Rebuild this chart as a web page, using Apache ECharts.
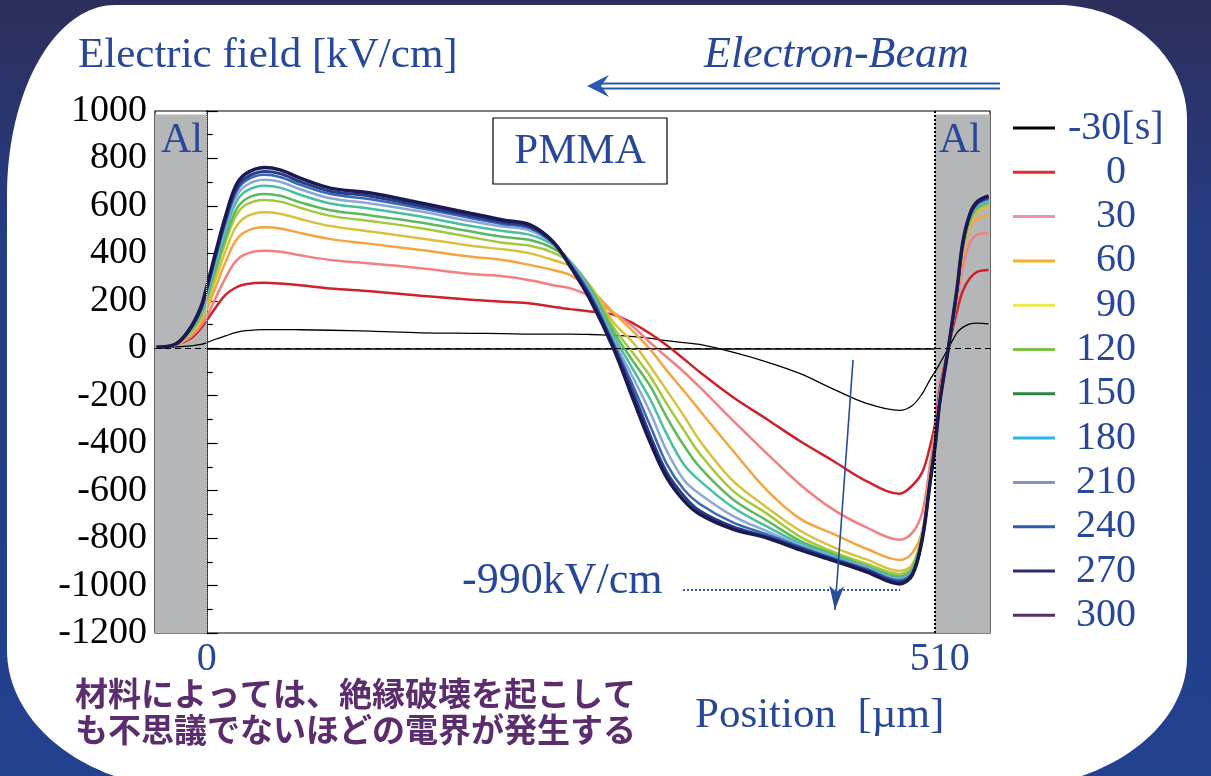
<!DOCTYPE html>
<html><head><meta charset="utf-8">
<script src="https://cdn.jsdelivr.net/npm/echarts@6/dist/echarts.min.js"></script>
<style>html,body{margin:0;padding:0;background:#22418f}#c{width:1211px;height:776px}</style>
</head><body><div id="c"></div>
<script>
// ---- data ----
const positions = [-35,-21,-11,-4,0,6,13,20,27,40,51,65,86,114,149,184,206,225,241,253,267,283,297,309,320,332,343,366,390,413,436,459,482,491,498,503,507,510,516,522,526,531,536,544];
const s_m30 = [4,6,10,16,24,38,52,66,74, 79,79,78,76,72,65,63,62,60, 60,60,58,54,49,42,32,24,16,-16,-58,-107,-172,-232,-262, -241,-190,-135,-97,-65,0,65,88,103,106,103];
const s_0   = [4,15,42,85,118,170,225,255,270, 276,273,266,252,240,221,205,196,189, 175,165,155,142,104,60,13,-45,-100,-205,-300,-392,-475,-560,-613, -578,-520,-420,-310,-170,0,156,240,295,322,330];
const s_30  = [4,15,50,94,134,210,296,365,397, 411,407,392,372,357,337,313,304,287, 266,253,218,150,89,21,-37,-100,-164,-304,-445,-575,-680,-755,-807, -777,-689,-500,-340,-190,0,200,340,444,478,486];
const s_60  = [4,16,58,110,162,255,362,452,492, 510,505,486,460,440,414,386,372,351, 330,308,250,150,69,-8,-93,-180,-262,-431,-600,-719,-782,-845,-892, -862,-765,-550,-380,-210,0,220,385,503,545,562];
const s_90  = [4,16,64,124,182,287,408,508,553, 573,567,545,515,492,463,432,417,400, 372,345,262,110,21,-80,-177,-285,-389,-558,-672,-769,-838,-890,-938, -910,-775,-560,-385,-215,0,230,405,520,575,596];
const s_120 = [4,17,70,135,200,315,446,555,604, 625,618,592,558,536,506,468,445,432, 403,360,258,88,-23,-122,-233,-345,-444,-600,-698,-795,-858,-908,-951, -920,-780,-565,-388,-218,0,234,415,532,585,608];
const s_150 = [4,17,73,142,210,330,466,578,628, 650,643,615,582,560,530,492,470,456, 421,365,252,70,-58,-164,-290,-410,-501,-636,-727,-812,-868,-918,-962, -930,-785,-568,-390,-220,0,236,420,540,592,615];
const s_180 = [4,18,77,150,222,350,492,610,661, 685,677,647,610,588,555,515,494,478, 435,365,245,52,-93,-220,-361,-490,-558,-670,-752,-822,-874,-921,-967, -935,-788,-570,-392,-222,0,238,424,545,597,620];
const s_210 = [4,18,80,156,232,364,512,632,685, 710,702,670,632,610,576,535,513,496, 440,362,235,35,-128,-276,-431,-555,-614,-706,-772,-830,-880,-925,-972, -940,-792,-572,-394,-224,0,240,428,550,602,625];
const s_240 = [4,19,83,162,242,378,528,652,705, 731,722,689,650,628,590,548,523,505, 443,356,225,22,-163,-333,-487,-595,-656,-734,-785,-837,-885,-930,-978, -945,-795,-575,-396,-226,0,242,432,555,607,630];
const s_270 = [4,19,86,168,250,388,540,666,718, 745,736,702,662,641,600,557,531,512, 446,350,215,10,-191,-375,-522,-622,-685,-752,-795,-843,-890,-935,-985, -950,-798,-578,-398,-228,0,245,438,560,612,636];
const s_300 = [4,20,90,175,259,400,555,682,735, 762,752,717,675,654,612,568,541,520, 449,344,203,0,-220,-403,-544,-642,-699,-762,-800,-850,-895,-942,-993, -955,-800,-580,-400,-230,0,249,444,566,617,642];
const seriesNames = ['-30[s]','0','30','60','90','120','150','180','210','240','270','300'];
const seriesValues = [s_m30,s_0,s_30,s_60,s_90,s_120,s_150,s_180,s_210,s_240,s_270,s_300];
const yTicks = {min:-1200, max:1000, step:200};
const xTickValues = [0, 510];
const alLeft = [-36, 0], alRight = [506.7, 545];
const zeroLevel = 0;
const peakMarkY = -1018;          // "-990kV/cm" guide
const peakMarkX = [331.4, 482.4];
const trendArrow = [[449.7,-49],[437.1,-1103]];

// ---- styles ----
const lineColors = ['#000000','#d0202a','#f47f80','#f5a540','#d8c13c','#a3c83c','#5cb85c','#45c0a0','#88a8d8','#3a68b8','#283a8a','#1a1a50'];
const legendColors = ['#000000','#e8262b','#ee8fb8','#f2b224','#ece84a','#7cc24a','#2e8540','#2bb8e6','#8890c8','#2a5cae','#2d2d6a','#5c2a66'];
const lineWidths = [1.3,2.5,2.5,2.5,2.5,2.5,2.5,2.5,2.5,2.5,3,3.5];
const blue = '#27479a';
const serif = '"Liberation Serif", "DejaVu Serif", serif';

// white rounded slide panel outline (elliptical corners)
function arcPts(cx, cy, rx, ry, a0, a1, n){
  const pts=[];
  for(let i=0;i<=n;i++){const a=a0+(a1-a0)*i/n; pts.push([cx+rx*Math.cos(a), cy+ry*Math.sin(a)]);}
  return pts;
}
const P = Math.PI;
const panelPts = [].concat(
  arcPts(115,195,108,190, P, 1.5*P, 40),
  arcPts(1057,120,130,115, 1.5*P, 2*P, 40),
  arcPts(997,657,190,133, 0, 0.5*P, 40),
  arcPts(197,650,190,140, 0.5*P, P, 40)
);

const chart = echarts.init(document.getElementById('c'), null, {renderer:'canvas'});

const series = seriesNames.map((n,k)=>({
  name:n, type:'line', smooth:0.35, showSymbol:false, z:3,
  data: positions.map((x,i)=>[x, seriesValues[k][i]]),
  lineStyle:{color:lineColors[k], width:lineWidths[k]},
  itemStyle:{color:lineColors[k]}
}));

series.unshift({
  name:'annot', type:'line', data:[], z:1, silent:true,
  markArea:{silent:true, itemStyle:{color:'#b5b6b8'},
    data:[[{xAxis:alLeft[0], yAxis:yTicks.min},{xAxis:alLeft[1], yAxis:985}],
          [{xAxis:alRight[0], yAxis:yTicks.min},{xAxis:alRight[1], yAxis:985}]]},
  markLine:{silent:true, symbol:'none', label:{show:false},
    data:[
      {yAxis:zeroLevel, lineStyle:{color:'#000', width:1, type:[6,4]}},
      {xAxis:alLeft[1], lineStyle:{color:'#d8d8d8', width:1, type:'dotted'}},
      {xAxis:alRight[0], lineStyle:{color:'#000', width:2, type:'dotted'}},
      [{coord:[peakMarkX[0],peakMarkY], lineStyle:{color:'#3055b0', width:2, type:[2,2]}},{coord:[peakMarkX[1],peakMarkY]}],
      [{coord:trendArrow[0], symbol:'none', lineStyle:{color:'#2a4d9a', width:1.6, type:'solid'}},{coord:trendArrow[1], symbol:'arrow', symbolSize:[11,24]}]
    ]}
});

const option = {
  animation:false,
  grid:{left:155, right:221, top:111, bottom:143, show:true, borderColor:'#000', borderWidth:1.2, backgroundColor:'#fff'},
  xAxis:{type:'value', min:-36, max:545, splitLine:{show:false},
    axisLine:{lineStyle:{color:'#000', width:1.5}},
    axisTick:{inside:true, length:5, customValues:xTickValues, lineStyle:{color:'#000'}},
    axisLabel:{customValues:xTickValues, color:blue, fontFamily:serif, fontSize:40, margin:6,
      formatter:function(v){return String(v);}}},
  yAxis:{type:'value', min:yTicks.min, max:yTicks.max, interval:yTicks.step, splitLine:{show:false},
    axisLine:{show:true, lineStyle:{color:'#000', width:1.5}},
    axisTick:{show:true, inside:true, length:11, lineStyle:{color:'#000', width:1.2}},
    minorTick:{show:true, splitNumber:2, length:6, lineStyle:{color:'#000', width:1.2}},
    axisLabel:{color:'#000', fontFamily:serif, fontSize:38, margin:8,
      formatter:function(v){return String(v);}}},
  legend:{orient:'vertical', left:1013, top:108, padding:0, itemWidth:42, itemHeight:3, itemGap:4.3, icon:'rect',
    selectedMode:false,
    data: seriesNames.map((n,k)=>({name:n, itemStyle:{color:legendColors[k]}})),
    formatter:function(name){
      if(name==='-30[s]') return '{d|-30[s]}';
      if(name==='0') return '{a|0}';
      return '{c|'+name+'}';
    },
    textStyle:{fontFamily:serif, fontSize:40, color:blue, lineHeight:36,
      rich:{a:{width:66, align:'right', fontFamily:serif, fontSize:40, color:blue, lineHeight:36},
            d:{padding:[0,0,0,8], fontFamily:serif, fontSize:40, color:blue, lineHeight:36},
            c:{width:76, align:'right', fontFamily:serif, fontSize:40, color:blue, lineHeight:36}}}},
  graphic:[
    {type:'rect', z:-100, silent:true, shape:{x:0,y:0,width:1211,height:776},
      style:{fill:new echarts.graphic.LinearGradient(0,0,0,1,[{offset:0,color:'#2d2e5b'},{offset:0.3,color:'#253c83'},{offset:1,color:'#22418f'}])}},
    {type:'polygon', z:-99, silent:true, shape:{points:panelPts}, style:{fill:'#ffffff'}},
    {type:'text', z:50, left:78, top:34, style:{text:'Electric field [kV/cm]', font:'43px '+serif, fill:blue}},
    {type:'text', z:50, left:704, top:33, style:{text:'Electron-Beam', font:'italic 44px '+serif, fill:blue}},
    {type:'line', z:50, shape:{x1:600,y1:83.5,x2:1000,y2:83.5}, style:{stroke:'#2a58b0', lineWidth:2.2}},
    {type:'line', z:50, shape:{x1:600,y1:88.5,x2:1000,y2:88.5}, style:{stroke:'#2a58b0', lineWidth:2.2}},
    {type:'polygon', z:50, shape:{points:[[587,86],[609,75],[601,86],[609,97]]}, style:{fill:'#2a58b0'}},
    {type:'rect', z:50, shape:{x:493,y:118,width:174,height:66}, style:{fill:'#fff', stroke:'#000', lineWidth:1.2}},
    {type:'text', z:51, x:580, y:152, style:{text:'PMMA', font:'43px '+serif, fill:blue, textAlign:'center', textVerticalAlign:'middle'}},
    {type:'text', z:51, x:182, y:141, style:{text:'Al', font:'42px '+serif, fill:blue, textAlign:'center', textVerticalAlign:'middle'}},
    {type:'text', z:51, x:960, y:141, style:{text:'Al', font:'42px '+serif, fill:blue, textAlign:'center', textVerticalAlign:'middle'}},
    {type:'text', z:51, x:462, y:581, style:{text:'-990kV/cm', font:'44px '+serif, fill:blue, textVerticalAlign:'middle'}},
    {type:'text', z:51, x:695, y:716, style:{text:'Position  [µm]', font:'43px '+serif, fill:blue, textVerticalAlign:'middle'}},
    {type:'text', z:51, x:75, y:693, style:{text:'材料によっては、絶縁破壊を起こして', font:'bold 33px "Noto Sans CJK JP"', fill:'#5c2d6e', textVerticalAlign:'middle'}},
    {type:'text', z:51, x:75, y:729, style:{text:'も不思議でないほどの電界が発生する', font:'bold 33px "Noto Sans CJK JP"', fill:'#5c2d6e', textVerticalAlign:'middle'}}
  ],
  series: series
};
chart.setOption(option);
</script></body></html>
